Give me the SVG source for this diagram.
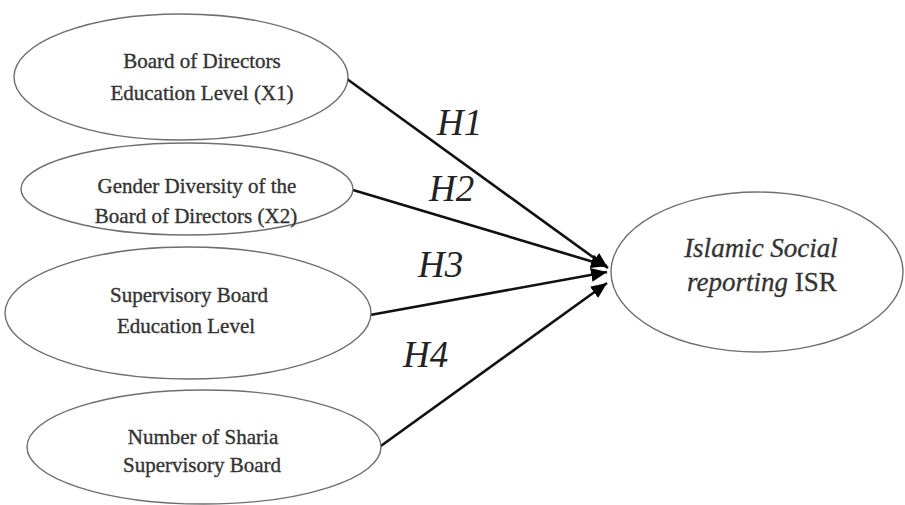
<svg xmlns="http://www.w3.org/2000/svg" width="905" height="505" viewBox="0 0 905 505">
<style>
.node ellipse{fill:#fff;stroke:#6e6e6e;stroke-width:1.4}
.lbl{font-family:"Liberation Serif","DejaVu Serif",serif;font-size:21px;fill:#333;stroke:#333;stroke-width:0.35;text-anchor:middle}
.isr{font-family:"Liberation Serif","DejaVu Serif",serif;font-size:27px;fill:#333;stroke:#333;stroke-width:0.3;text-anchor:middle}
.h{font-family:"Liberation Serif","DejaVu Serif",serif;font-style:italic;font-size:37px;fill:#222}
.conn line{stroke:#111;stroke-width:2.6;marker-end:url(#arr)}
</style>
<defs>
<marker id="arr" markerUnits="userSpaceOnUse" markerWidth="18" markerHeight="16" refX="16" refY="8" orient="auto">
<path d="M0,1 L16,8 L0,15 Z" fill="#000"/>
</marker>
</defs>
<rect width="905" height="505" fill="#fff"/>
<g id="connectors" class="conn">
<line x1="347" y1="79" x2="608" y2="268"/>
<line x1="353" y1="190" x2="607" y2="266"/>
<line x1="370" y1="315" x2="607" y2="272"/>
<line x1="378" y1="448" x2="607" y2="283"/>
</g>
<g id="n1" class="node">
<ellipse cx="181" cy="77" rx="167" ry="63"/>
<text class="lbl" x="202" y="68">Board of Directors</text>
<text class="lbl" x="202" y="100">Education Level (X1)</text>
</g>
<g id="n2" class="node">
<ellipse cx="187" cy="189" rx="166" ry="46"/>
<text class="lbl" x="197" y="193">Gender Diversity of the</text>
<text class="lbl" x="196" y="223">Board of Directors (X2)</text>
</g>
<g id="n3" class="node">
<ellipse cx="188" cy="313" rx="183" ry="66"/>
<text class="lbl" x="189" y="302">Supervisory Board</text>
<text class="lbl" x="186" y="333">Education Level</text>
</g>
<g id="n4" class="node">
<ellipse cx="204" cy="447" rx="177" ry="57"/>
<text class="lbl" x="203" y="444">Number of Sharia</text>
<text class="lbl" x="202" y="472">Supervisory Board</text>
</g>
<g id="isr" class="node">
<ellipse cx="757" cy="272" rx="146" ry="80"/>
<text class="isr" x="761" y="257" font-style="italic">Islamic Social</text>
<text class="isr" x="762" y="291"><tspan font-style="italic">reporting</tspan> ISR</text>
</g>
<g id="hlabels">
<text class="h" x="437" y="135">H1</text>
<text class="h" x="429" y="201">H2</text>
<text class="h" x="418" y="277">H3</text>
<text class="h" x="403" y="367">H4</text>
</g>
</svg>
